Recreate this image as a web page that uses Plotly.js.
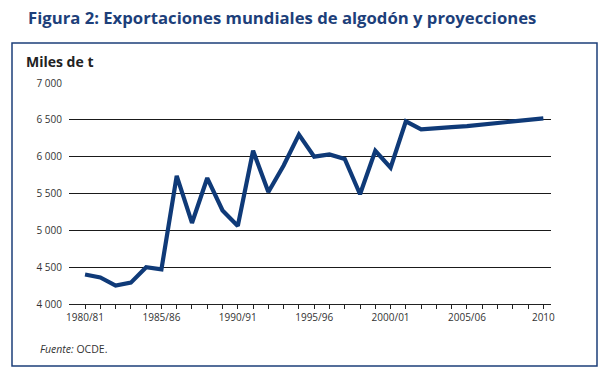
<!DOCTYPE html>
<html><head><meta charset="utf-8">
<script src="https://cdn.plot.ly/plotly-3.0.1.min.js"></script>
<style>body{margin:0;padding:0;background:#fff}#chart{width:603px;height:372px}</style>
</head><body><div id="chart"></div>
<script>
// Data
const years = [1980,1981,1982,1983,1984,1985,1986,1987,1988,1989,1990,1991,1992,1993,1994,1995,1996,1997,1998,1999,2000,2001,2002,2003,2004,2005,2006,2007,2008,2009,2010];
const exportsKt = [4400,4360,4250,4290,4500,4470,5740,5100,5710,5270,5060,6080,5520,5880,6300,6000,6030,5970,5490,6080,5850,6480,6370,6380,6400,6415,6435,6460,6480,6500,6520];
const labelYears = [1980,1985,1990,1995,2000,2005,2010];
const labelText = ["1980/81","1985/86","1990/91","1995/96","2000/01","2005/06","2010"];

const tickText = years.map(y => { const i = labelYears.indexOf(y); return i >= 0 ? labelText[i] : ""; });
const navy = "#0f3a78";
const font = "Open Sans, Noto Sans, sans-serif";

const L = 69, R = 52, T = 83, B = 68, W = 603, H = 372;
const pw = W - L - R, ph = H - T - B;
const px = x => (x - L) / pw;
const py = y => (H - B - y) / ph;

Plotly.newPlot("chart", [{
  x: years, y: exportsKt, type: "scatter", mode: "lines",
  line: {color: navy, width: 4.2}, hoverinfo: "skip"
}], {
  width: W, height: H,
  margin: {l: L, r: R, t: T, b: B},
  paper_bgcolor: "#fff", plot_bgcolor: "#fff",
  separators: ", ",
  showlegend: false,
  title: {text: "<b>Figura 2: Exportaciones mundiales de algodón y proyecciones</b>",
    x: 28 / W, xanchor: "left", xref: "container", y: 1 - 18 / H, yanchor: "middle", yref: "container",
    font: {family: font, size: 16.7, color: "#1d3f7a"}},
  xaxis: {range: [1978.95, 2010.5], tickmode: "array", tickvals: years, ticktext: tickText,
    ticks: "outside", ticklen: 4, tickwidth: 1, tickcolor: "#222",
    showgrid: false, zeroline: false, showline: true, linecolor: "#222", linewidth: 1.2,
    tickfont: {family: font, size: 10, color: "#333"}, fixedrange: true},
  yaxis: {range: [4000, 7000], dtick: 500, tick0: 4000, tickformat: ",d",
    showgrid: true, gridcolor: "#1a1a1a", gridwidth: 1.3, zeroline: false, showline: false,
    ticks: "", tickfont: {family: font, size: 10, color: "#333"}, ticklabelstandoff: 6, fixedrange: true},
  shapes: [{type: "rect", xref: "paper", yref: "paper",
    x0: px(12), x1: px(597), y0: py(366), y1: py(43),
    line: {color: "#1d3f7a", width: 1.5}, fillcolor: "rgba(0,0,0,0)", layer: "below"}],
  annotations: [
    {text: "<b>Miles de t</b>", xref: "paper", yref: "paper", x: px(24), y: py(62),
      xanchor: "left", yanchor: "middle", showarrow: false,
      font: {family: font, size: 14, color: "#222"}},
    {text: "<i>Fuente:</i> OCDE.", xref: "paper", yref: "paper", x: px(38), y: py(349),
      xanchor: "left", yanchor: "middle", showarrow: false,
      font: {family: font, size: 10.5, color: "#333"}}
  ]
}, {displayModeBar: false, staticPlot: true});
</script></body></html>
